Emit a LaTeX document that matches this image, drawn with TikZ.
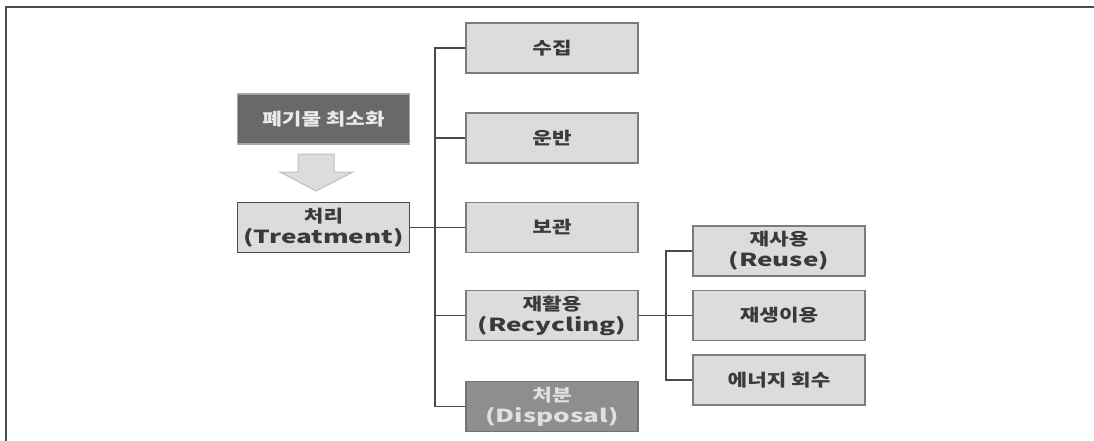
\documentclass[tikz,border=0pt]{standalone}
\usepackage{fontspec}
\setmainfont{Noto Sans CJK KR}[FakeStretch=1.25]
\newfontfamily\latwide{Noto Sans CJK KR}[FakeStretch=1.45]
\newcommand{\lw}[1]{{\latwide\fontsize{18}{21}\selectfont\bfseries #1}}
\definecolor{boxfill}{HTML}{DCDCDD}
\definecolor{boxline}{HTML}{7C7C7C}
\definecolor{txt}{HTML}{3A3A3A}
\definecolor{darkfill}{HTML}{69696B}
\definecolor{dispfill}{HTML}{8E8E8F}
\definecolor{conn}{HTML}{4A4A4A}
\begin{document}
\begin{tikzpicture}[x=1pt,y=-1pt,
  box/.style={draw=boxline,line width=1.3pt,fill=boxfill,text=txt,
    minimum width=172pt,minimum height=50pt,inner sep=0pt,align=center,
    font=\fontsize{17}{21}\selectfont\bfseries},
  darkbox/.style={box,fill=darkfill,draw=black!35,text=white!92!black},
  dispbox/.style={box,fill=dispfill,draw=black!55,text=white!88!black},
  treatbox/.style={box,draw=black!70},
  link/.style={draw=conn,line width=1.3pt}]
\useasboundingbox (0,0) rectangle (1094,441);
\draw[black!70,line width=1.2pt] (1094,7) -- (6,7) -- (6,441);

\node[darkbox]  (min)   at (323.5,119)   {폐기물 최소화};
\node[treatbox] (treat) at (323.5,227.5) {처리\\\lw{(Treatment)}};

\node[box] (c1) at (552,48)    {수집};
\node[box] (c2) at (552,138)   {운반};
\node[box] (c3) at (552,227.5) {보관};
\node[box] (c4) at (552,315.5) {재활용\\\lw{(Recycling)}};
\node[dispbox] (c5) at (552,406.5) {처분\\\lw{(Disposal)}};

\node[box] (s1) at (779,251)   {재사용\\\lw{(Reuse)}};
\node[box] (s2) at (779,315.5) {재생이용};
\node[box] (s3) at (779,380)   {에너지 회수};

% block arrow
\draw[fill=boxfill,draw=black!25,line width=1pt]
  (298,154) -- (334,154) -- (334,172) -- (353,172) -- (316,191)
  -- (280,172) -- (298,172) -- cycle;

\coordinate (tx) at (435,0);
\coordinate (sx) at (666,0);
\draw[link] (treat.east) -- (treat.east -| tx);
\draw[link] (c1.west) -- (c1.west -| tx) -- (c5.west -| tx) -- (c5.west);
\draw[link] (c2.west) -- (c2.west -| tx);
\draw[link] (c3.west) -- (c3.west -| tx);
\draw[link] (c4.west) -- (c4.west -| tx);

\draw[link] (c4.east) -- (c4.east -| sx);
\draw[link] (s1.west) -- (s1.west -| sx) -- (s3.west -| sx) -- (s3.west);
\draw[link] (s2.west) -- (s2.west -| sx);
\end{tikzpicture}
\end{document}
